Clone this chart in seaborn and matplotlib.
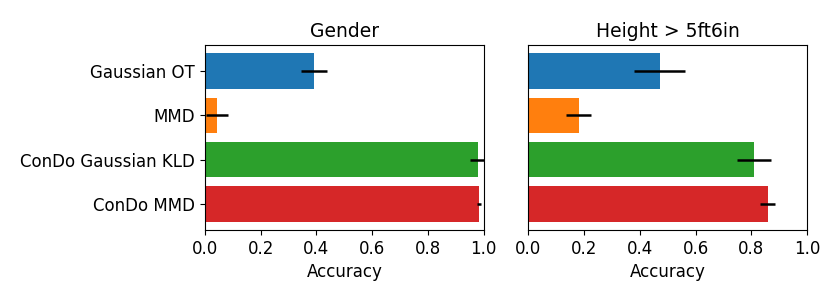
import pandas as pd
import matplotlib
matplotlib.use("Agg")
import matplotlib.pyplot as plt
import seaborn as sns

methods = ["Gaussian OT", "MMD", "ConDo Gaussian KLD", "ConDo MMD"]
gender_acc = [0.390, 0.044, 0.980, 0.984]
gender_err = [0.047, 0.040, 0.028, 0.007]
height_acc = [0.471, 0.181, 0.809, 0.859]
height_err = [0.091, 0.045, 0.060, 0.027]
titles = ["Gender", "Height > 5ft6in"]

colors = sns.color_palette("tab10", 4)

fig, axes = plt.subplots(1, 2, figsize=(8.4, 3.0), dpi=100)
fig.subplots_adjust(left=0.244, right=0.961, bottom=0.233, top=0.85, wspace=0.16)

for ax, acc, err, title in zip(axes, [gender_acc, height_acc], [gender_err, height_err], titles):
    df = pd.DataFrame({"Method": methods, "Accuracy": acc})
    sns.barplot(data=df, x="Accuracy", y="Method", hue="Method", palette=colors,
                saturation=1, errorbar=None, legend=False, width=0.8, ax=ax)
    ax.errorbar(acc, range(len(methods)), xerr=err, fmt="none", ecolor="black",
                elinewidth=1.8, capsize=0)
    ax.set_xlim(0, 1)
    ax.set_title(title, fontsize=13.5)
    ax.set_xlabel("Accuracy", fontsize=12)
    ax.set_ylabel("")
    ax.tick_params(labelsize=12)

axes[1].set_yticks([])

fig.savefig("out.png", dpi=100)
